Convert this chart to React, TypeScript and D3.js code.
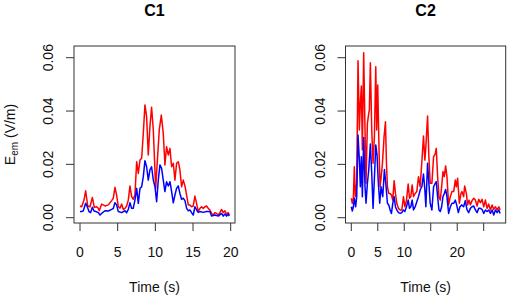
import React from "react";
import * as d3 from "d3";

// ---------- Data ----------
const c1RedTime = [0,0.22,0.53,0.75,1.02,1.33,1.64,1.9,2.21,2.43,2.56,2.87,3.32,3.76,4.2,4.42,4.64,4.86,5.08,5.31,5.53,5.75,5.97,6.19,6.41,6.63,6.85,7.07,7.29,7.52,7.74,7.96,8.18,8.4,8.62,8.84,9.06,9.28,9.5,9.73,10.04,10.3,10.52,10.79,11.05,11.27,11.49,11.72,11.94,12.16,12.38,12.6,12.82,13.04,13.26,13.48,13.7,13.93,14.15,14.37,14.59,14.81,15.03,15.25,15.47,15.69,15.92,16.14,16.36,16.58,16.8,17.02,17.24,17.46,17.68,17.9,18.13,18.35,18.57,18.79,19.01,19.23,19.45,19.67,19.81];
const c1RedValue = [0.0044,0.0041,0.0066,0.0101,0.0044,0.0041,0.0076,0.0039,0.0041,0.0035,0.0026,0.0051,0.0044,0.0048,0.0064,0.0073,0.0114,0.0085,0.0041,0.0036,0.0051,0.0031,0.0035,0.0044,0.0066,0.0119,0.0079,0.0069,0.0085,0.021,0.0166,0.0216,0.0223,0.0316,0.0423,0.0379,0.0235,0.0341,0.0414,0.0329,0.011,0.0229,0.0329,0.0385,0.0316,0.0198,0.0266,0.0235,0.026,0.0191,0.0204,0.0141,0.0204,0.021,0.0179,0.0116,0.0141,0.0119,0.0085,0.0048,0.0048,0.0041,0.0044,0.0081,0.0054,0.0023,0.0035,0.0041,0.0035,0.0041,0.0044,0.0035,0.0029,0.0016,0.001,0.0019,0.0016,0.001,0.0019,0.0031,0.0019,0.0026,0.0013,0.0019,0.001];

const c1BlueTime = [0,0.22,0.44,0.75,0.97,1.19,1.41,1.64,1.86,2.12,2.43,2.65,2.87,3.32,3.76,4.2,4.42,4.64,4.86,5.08,5.53,5.97,6.19,6.41,6.63,6.85,7.07,7.29,7.52,7.74,7.96,8.18,8.4,8.62,8.84,9.06,9.28,9.5,9.73,9.95,10.17,10.39,10.61,10.83,11.05,11.27,11.49,11.72,11.94,12.16,12.38,12.6,12.82,13.04,13.26,13.48,13.7,13.93,14.15,14.37,14.59,14.81,15.03,15.25,15.47,15.69,15.92,16.36,16.8,17.24,17.46,17.9,18.35,18.79,19.01,19.23,19.45,19.67,19.81];
const c1BlueValue = [0.0023,0.0023,0.0026,0.0054,0.0041,0.0023,0.0019,0.0039,0.0025,0.0023,0.0019,0.001,0.0016,0.0026,0.0025,0.0031,0.0035,0.0056,0.0048,0.0023,0.0019,0.0026,0.0019,0.0031,0.0056,0.0035,0.0035,0.0066,0.011,0.0054,0.011,0.0116,0.0154,0.0214,0.0191,0.0141,0.0179,0.0191,0.0141,0.0116,0.006,0.0141,0.0198,0.0185,0.0141,0.0098,0.0135,0.0119,0.0135,0.0098,0.0056,0.0085,0.011,0.0119,0.0091,0.0069,0.0073,0.0064,0.0035,0.0026,0.0029,0.0019,0.001,0.0041,0.0029,0.002,0.0023,0.002,0.0023,0.0023,0.0006,0.001,0.0006,0.0016,0.0006,0.0014,0.0006,0.0013,0.0006];

const c2RedTime = [0,0.19,0.39,0.57,0.76,1.02,1.27,1.52,1.71,1.9,2.09,2.34,2.59,2.78,3.04,3.29,3.41,3.6,3.86,4.11,4.36,4.62,4.8,4.99,5.25,5.43,5.62,5.88,6.19,6.45,6.64,6.82,7.07,7.33,7.58,7.83,8.09,8.34,8.59,8.91,9.22,9.54,9.85,10.11,10.42,10.74,10.99,11.24,11.49,11.75,12.06,12.37,12.69,13.0,13.32,13.63,13.89,14.08,14.4,14.65,14.9,15.22,15.54,15.85,16.04,16.3,16.55,16.8,17.06,17.31,17.56,17.81,18.06,18.38,18.7,19.01,19.33,19.64,19.83,20.08,20.4,20.71,20.9,21.21,21.4,21.72,21.97,22.23,22.48,22.8,23.12,23.43,23.75,24.06,24.38,24.69,25.01,25.32,25.64,25.95,26.27,26.59,26.9,27.22,27.53,27.85,28.1];
const c2RedValue = [0.0073,0.0054,0.0073,0.0191,0.0079,0.0129,0.0589,0.0329,0.0429,0.0494,0.0254,0.0619,0.0329,0.0129,0.0354,0.0391,0.0404,0.0581,0.0329,0.0204,0.0304,0.0566,0.0329,0.0498,0.0241,0.0116,0.0148,0.0204,0.0304,0.036,0.0204,0.0116,0.0091,0.0091,0.0085,0.0066,0.0139,0.0091,0.0054,0.0035,0.0029,0.0029,0.0079,0.0041,0.0066,0.0126,0.0073,0.0079,0.0123,0.0079,0.0091,0.0098,0.0154,0.0116,0.021,0.0306,0.0216,0.0266,0.0381,0.0229,0.0129,0.0129,0.0229,0.0239,0.026,0.0154,0.0079,0.0066,0.0116,0.0173,0.0154,0.0194,0.0154,0.0048,0.0079,0.0098,0.0098,0.0141,0.0116,0.0148,0.0054,0.0091,0.0098,0.0079,0.0119,0.0091,0.0048,0.0066,0.0048,0.0064,0.0073,0.0066,0.0044,0.0069,0.0056,0.0069,0.0041,0.0066,0.0035,0.0051,0.0029,0.0048,0.0031,0.0041,0.0029,0.0041,0.0029];

const c2BlueTime = [0,0.19,0.39,0.57,0.83,1.02,1.27,1.52,1.71,1.9,2.09,2.34,2.59,2.78,3.04,3.29,3.6,3.86,4.11,4.36,4.62,4.86,5.11,5.37,5.62,5.94,6.25,6.57,6.82,7.07,7.33,7.58,7.83,8.09,8.34,8.59,8.91,9.22,9.54,9.85,10.11,10.42,10.74,10.99,11.24,11.49,11.75,12.06,12.37,12.69,13.0,13.32,13.63,13.89,14.08,14.4,14.65,14.9,15.22,15.54,15.85,16.04,16.3,16.55,16.8,17.06,17.31,17.56,17.81,18.06,18.38,18.7,19.01,19.33,19.64,19.9,20.21,20.52,20.83,21.21,21.53,21.85,22.16,22.48,22.8,23.12,23.43,23.75,24.06,24.38,24.69,25.01,25.32,25.64,25.95,26.27,26.59,26.9,27.22,27.53,27.85,28.1];
const c2BlueValue = [0.0041,0.0025,0.0041,0.0073,0.0041,0.0079,0.031,0.0216,0.0116,0.0229,0.0079,0.0301,0.0116,0.0054,0.0129,0.0179,0.0276,0.0166,0.0035,0.0148,0.0273,0.0235,0.0129,0.0054,0.0116,0.0079,0.0181,0.0116,0.0054,0.0048,0.0029,0.0016,0.0054,0.0079,0.0041,0.0029,0.0019,0.0016,0.0019,0.0029,0.0023,0.0041,0.0066,0.0035,0.0041,0.0066,0.0029,0.0041,0.006,0.0079,0.0104,0.0116,0.0164,0.0104,0.0041,0.0204,0.0129,0.0054,0.0029,0.0116,0.0129,0.0135,0.0079,0.0029,0.0023,0.0041,0.0079,0.0091,0.0106,0.0079,0.0016,0.0041,0.0054,0.0054,0.0066,0.0048,0.0019,0.0041,0.0048,0.0041,0.0064,0.0029,0.0019,0.0035,0.0041,0.0044,0.0029,0.0019,0.0035,0.0035,0.0031,0.0016,0.0029,0.0023,0.0029,0.0016,0.0029,0.001,0.0029,0.0019,0.0029,0.0016];

const yTicks = [0, 0.02, 0.04, 0.06];
const c1XTicks = [0, 5, 10, 15, 20];
const c1XLabels = ["0", "5", "10", "15", "20"];
const c2XTicks = [0, 5, 10, 15, 20, 25];
const c2XLabels = ["0", "5", "10", "", "20", ""];

// ---------- Layout ----------
const FONT = "'Liberation Sans', Arial, Helvetica, sans-serif";
const BOX_TOP = 46;
const BOX_BOTTOM = 223;

type PanelProps = {
  title: string;
  boxLeft: number;
  boxRight: number;
  xDomain: [number, number];
  xRange: [number, number];
  xTicks: number[];
  xLabels: string[];
  redT: number[];
  redV: number[];
  blueT: number[];
  blueV: number[];
};

function Panel(p: PanelProps) {
  const x = d3.scaleLinear().domain(p.xDomain).range(p.xRange);
  const y = d3.scaleLinear().domain([0, 0.06]).range([217.7, 57.7]);
  const line = d3
    .line<[number, number]>()
    .x((d) => x(d[0]))
    .y((d) => y(d[1]));
  const red = line(p.redT.map((t, i) => [t, p.redV[i]] as [number, number])) || "";
  const blue = line(p.blueT.map((t, i) => [t, p.blueV[i]] as [number, number])) || "";
  const cx = (p.boxLeft + p.boxRight) / 2;
  const axisColor = "#333";
  const yLabX = p.boxLeft - 20.7;
  return (
    <g>
      <text x={cx} y={16} textAnchor="middle" fontFamily={FONT} fontWeight="bold" fontSize={16} fill="#000">
        {p.title}
      </text>
      <rect
        x={p.boxLeft}
        y={BOX_TOP}
        width={p.boxRight - p.boxLeft}
        height={BOX_BOTTOM - BOX_TOP}
        fill="none"
        stroke={axisColor}
        strokeWidth={1}
      />
      {yTicks.map((v) => (
        <g key={"y" + v}>
          <line x1={p.boxLeft - 8} x2={p.boxLeft} y1={y(v)} y2={y(v)} stroke={axisColor} strokeWidth={1} />
          <text
            transform={`translate(${yLabX},${y(v)}) rotate(-90)`}
            textAnchor="middle"
            fontFamily={FONT}
            fontSize={14}
            fill="#111"
          >
            {v.toFixed(2)}
          </text>
        </g>
      ))}
      {p.xTicks.map((v, i) => (
        <g key={"x" + v}>
          <line x1={x(v)} x2={x(v)} y1={BOX_BOTTOM} y2={BOX_BOTTOM + 8} stroke={axisColor} strokeWidth={1} />
          <text x={x(v)} y={256.7} textAnchor="middle" fontFamily={FONT} fontSize={14} fill="#111">
            {p.xLabels[i]}
          </text>
        </g>
      ))}
      <text x={cx} y={291.5} textAnchor="middle" fontFamily={FONT} fontSize={14} fill="#111">
        Time (s)
      </text>
      <path d={red} fill="none" stroke="#FF0000" strokeWidth={1.5} strokeLinejoin="round" />
      <path d={blue} fill="none" stroke="#0000FF" strokeWidth={1.5} strokeLinejoin="round" />
    </g>
  );
}

export default function App() {
  return (
    <svg
      width={510}
      height={299}
      style={{ position: "absolute", left: 0, top: 0, background: "#fff" }}
    >
      <rect x={0} y={0} width={510} height={299} fill="#fff" />
      <text
        transform="translate(15,134.5) rotate(-90)"
        textAnchor="middle"
        fontFamily={FONT}
        fontSize={14}
        fill="#111"
      >
        E
        <tspan fontSize={10} dy={3}>em</tspan>
        <tspan dy={-3}> (V/m)</tspan>
      </text>
      <Panel
        title="C1"
        boxLeft={74}
        boxRight={235}
        xDomain={[0, 20]}
        xRange={[80, 230.7]}
        xTicks={c1XTicks}
        xLabels={c1XLabels}
        redT={c1RedTime}
        redV={c1RedValue}
        blueT={c1BlueTime}
        blueV={c1BlueValue}
      />
      <Panel
        title="C2"
        boxLeft={345.5}
        boxRight={505.7}
        xDomain={[0, 25]}
        xRange={[351.3, 483.7]}
        xTicks={c2XTicks}
        xLabels={c2XLabels}
        redT={c2RedTime}
        redV={c2RedValue}
        blueT={c2BlueTime}
        blueV={c2BlueValue}
      />
    </svg>
  );
}
